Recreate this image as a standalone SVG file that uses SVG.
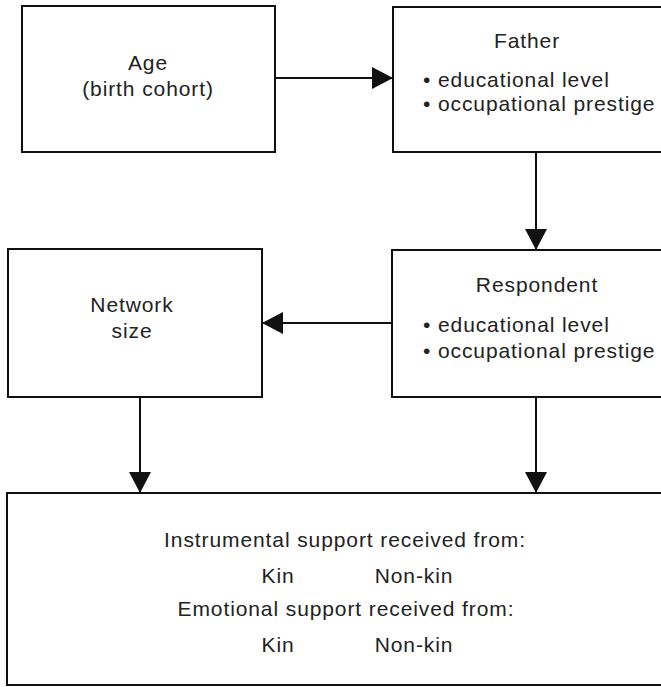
<svg xmlns="http://www.w3.org/2000/svg" width="661" height="687" viewBox="0 0 661 687">
<style>
.box{fill:#fff;stroke:#111;stroke-width:2}
.t{font-family:"Liberation Sans",Arial,sans-serif;font-size:21px;fill:#222;letter-spacing:0.9px}
.m{text-anchor:middle}
.c{stroke:#111;stroke-width:2;fill:none}
</style>
<defs>
<marker id="ah" markerUnits="userSpaceOnUse" markerWidth="22" markerHeight="24" refX="21" refY="11" orient="auto">
<polygon points="0,0 21,11 0,22" fill="#111"/>
</marker>
</defs>
<rect width="661" height="687" fill="#fff"/>
<g id="age">
<rect class="box" x="22" y="6" width="253" height="146"/>
<text class="t m" x="148" y="70">Age</text>
<text class="t m" x="148" y="96">(birth cohort)</text>
</g>
<g id="father">
<rect class="box" x="393" y="7" width="280" height="145"/>
<text class="t m" x="527" y="48">Father</text>
<text class="t" x="423" y="87">• educational level</text>
<text class="t" x="423" y="111">• occupational prestige</text>
</g>
<g id="network">
<rect class="box" x="8" y="249" width="254" height="148"/>
<text class="t m" x="132" y="312">Network</text>
<text class="t m" x="132" y="338">size</text>
</g>
<g id="respondent">
<rect class="box" x="392" y="250" width="280" height="147"/>
<text class="t m" x="537" y="292">Respondent</text>
<text class="t" x="423" y="332">• educational level</text>
<text class="t" x="423" y="358">• occupational prestige</text>
</g>
<g id="support">
<rect class="box" x="7" y="493" width="665" height="192"/>
<text class="t m" x="345" y="547">Instrumental support received from:</text>
<text class="t m" x="278" y="583">Kin</text>
<text class="t m" x="414" y="583">Non-kin</text>
<text class="t m" x="346" y="616">Emotional support received from:</text>
<text class="t m" x="278" y="652">Kin</text>
<text class="t m" x="414" y="652">Non-kin</text>
</g>
<g id="connectors">
<line class="c" x1="275" y1="78" x2="393" y2="78" marker-end="url(#ah)"/>
<line class="c" x1="536" y1="152" x2="536" y2="250" marker-end="url(#ah)"/>
<line class="c" x1="392" y1="323" x2="262" y2="323" marker-end="url(#ah)"/>
<line class="c" x1="140" y1="397" x2="140" y2="493" marker-end="url(#ah)"/>
<line class="c" x1="536" y1="397" x2="536" y2="493" marker-end="url(#ah)"/>
</g>
</svg>
